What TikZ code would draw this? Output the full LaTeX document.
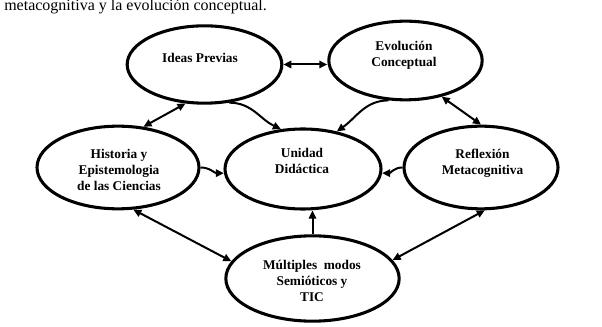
\documentclass[tikz,border=0pt]{standalone}
\usepackage{fontspec}
\setmainfont{Liberation Serif}
\usetikzlibrary{arrows.meta, shapes.geometric}

\begin{document}
\begin{tikzpicture}[
        x=0.75pt, y=0.75pt,
        elli/.style 2 args={draw, ellipse, line width=2.3pt, minimum width=#1, minimum height=#2, inner sep=0pt},
        lbl/.style={font=\fontsize{10}{12}\selectfont\bfseries, align=center, inner sep=0pt},
        arr/.style={-{Triangle[length=6pt, width=5.5pt]}, line width=1.5pt},
        darr/.style={{Triangle[length=6pt, width=5.5pt]}-{Triangle[length=6pt, width=5.5pt]}, line width=1.5pt}
      ]
        \useasboundingbox (0,0) rectangle (602,-327);
        \node[anchor=base west, inner sep=0pt, font=\fontsize{12}{14}\selectfont] (intro) at (4,-11) {metacognitiva y la evoluci\'on conceptual.};
        % ellipses
        \node[elli={116pt}{58pt}]   (ideas)  at (204.5,-64.5) {};
        \node[elli={115pt}{59pt}]   (evol)   at (405.5,-60.5) {};
        \node[elli={121.5pt}{62pt}] (hist)   at (118,-167.5) {};
        \node[elli={117pt}{60pt}]   (unidad) at (303,-169) {};
        \node[elli={115.5pt}{62pt}] (reflex) at (481,-167.5) {};
        \node[elli={130pt}{64pt}]   (multi)  at (312.5,-278.5) {};
        % texts
        \node[lbl] (ideasT)  at (200,-57.5) {Ideas Previas};
        \node[lbl] (evolT)   at (404,-55) {Evoluci\'on\\Conceptual};
        \node[lbl] (histT)   at (119,-169.5) {Historia y\\Epistemologia\\de las Ciencias};
        \node[lbl] (unidadT) at (302,-161) {Unidad\\Did\'actica};
        \node[lbl] (reflexT) at (482.5,-163) {Reflexi\'on\\Metacognitiva};
        \node[lbl] (multiT)  at (312,-281) {M\'ultiples~ modos\\Semi\'oticos y\\TIC};
        % connectors
        \draw[darr] (ideas.east) -- (ideas.east -| evol.west);
        \draw[darr] (ideas.-116) -- (hist.58);
        \draw[arr] (ideas.-57) to[out=0, in=155] (unidad.119);
        \draw[arr] (evol.-113) to[out=180, in=35] (unidad.48);
        \draw[darr] (evol.-45) -- (reflex.north);
        \draw[arr] (hist.east) to[out=0, in=180] (unidad.183);
        \draw[arr] (reflex.west) to[out=180, in=0] (unidad.-3);
        \draw[arr] (multi.north) -- (multi.north |- unidad.south);
        \draw[darr] (hist.-70) -- (multi.168);
        \draw[darr] (reflex.-85) -- (multi.13);
      \end{tikzpicture}
\end{document}
